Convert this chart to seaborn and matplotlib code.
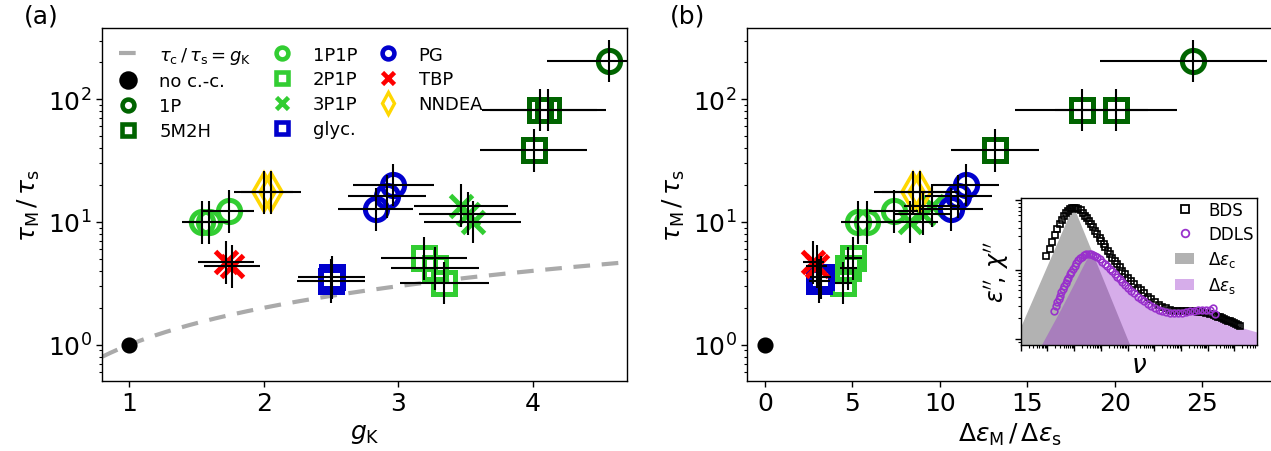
"""
Relaxation time ratio against Kirkwood factor (a) and against
relaxation strength ratio (b), with a BDS / DDLS spectrum inset.
"""

# imports
import numpy as np
import seaborn as sns
import matplotlib
matplotlib.use("Agg")
import matplotlib.pyplot as plt
from matplotlib.lines import Line2D
from matplotlib.patches import Patch
from matplotlib.ticker import LogLocator

# samples, in legend order
samples = ["no c.-c.", "1P", "5M2H", "1P1P", "2P1P", "3P1P",
           "glyc.", "PG", "TBP", "NNDEA"]

# Kirkwood factor g_K (x of panel a) and its error
g_k = {
    "no c.-c.": [1.0],
    "1P": [4.567],
    "5M2H": [4.007, 4.052, 4.115],
    "1P1P": [1.54, 1.59, 1.739],
    "2P1P": [3.194, 3.274, 3.343],
    "3P1P": [3.468, 3.518, 3.555],
    "glyc.": [2.50, 2.505],
    "PG": [2.834, 2.92, 2.963],
    "TBP": [1.72, 1.765],
    "NNDEA": [2.0, 2.055],
}
g_k_err = {
    "no c.-c.": [0.0],
    "1P": [0.46],
    "5M2H": [0.40, 0.43, 0.43],
    "1P1P": [0.15, 0.15, 0.19],
    "2P1P": [0.32, 0.33, 0.33],
    "3P1P": [0.35, 0.36, 0.36],
    "glyc.": [0.25, 0.25],
    "PG": [0.28, 0.29, 0.30],
    "TBP": [0.21, 0.21],
    "NNDEA": [0.22, 0.22],
}

# tau_M / tau_s (y of both panels) with lower / upper ends of the bars
tau_ratio = {
    "no c.-c.": [1.0],
    "1P": [205.0],
    "5M2H": [38.7, 82.0, 82.0],
    "1P1P": [9.9, 9.9, 12.2],
    "2P1P": [5.05, 4.19, 3.16],
    "3P1P": [13.6, 11.6, 9.9],
    "glyc.": [3.33, 3.55],
    "PG": [12.7, 16.2, 20.1],
    "TBP": [4.69, 4.35],
    "NNDEA": [17.6, 17.6],
}
tau_lo = {
    "no c.-c.": [1.0],
    "1P": [137.0],
    "5M2H": [25.6, 55.0, 55.0],
    "1P1P": [6.6, 6.6, 8.1],
    "2P1P": [3.4, 2.8, 2.14],
    "3P1P": [9.1, 7.8, 6.7],
    "glyc.": [2.2, 2.35],
    "PG": [8.5, 10.8, 13.4],
    "TBP": [3.1, 2.9],
    "NNDEA": [11.7, 11.7],
}
tau_hi = {
    "no c.-c.": [1.0],
    "1P": [305.0],
    "5M2H": [57.0, 122.0, 122.0],
    "1P1P": [14.9, 14.9, 18.3],
    "2P1P": [7.5, 6.2, 4.7],
    "3P1P": [20.4, 17.4, 14.8],
    "glyc.": [4.95, 5.3],
    "PG": [19.0, 24.3, 29.5],
    "TBP": [7.0, 6.5],
    "NNDEA": [26.2, 26.2],
}

# delta eps_M / delta eps_s (x of panel b) and its error
deps_ratio = {
    "no c.-c.": [0.0],
    "1P": [24.48],
    "5M2H": [13.17, 18.13, 20.07],
    "1P1P": [5.34, 5.82, 7.38],
    "2P1P": [5.06, 4.77, 4.48],
    "3P1P": [9.54, 9.03, 8.30],
    "glyc.": [3.10, 3.20],
    "PG": [10.65, 11.07, 11.49],
    "TBP": [2.77, 2.96],
    "NNDEA": [8.45, 8.87],
}
deps_ratio_err = {
    "no c.-c.": [0.0],
    "1P": [[5.3], [4.25]],
    "5M2H": [2.5, 3.8, 3.5],
    "1P1P": [1.0, 1.0, 1.4],
    "2P1P": [0.5, 0.5, 0.5],
    "3P1P": [1.6, 1.6, 1.6],
    "glyc.": [0.6, 0.6],
    "PG": [1.8, 1.9, 1.9],
    "TBP": [0.6, 0.6],
    "NNDEA": [2.2, 2.2],
}

# inset spectra (log10 of nu and of the loss, arbitrary units)
bds_lognu = [-1.04, -0.91, -0.83, -0.73, -0.63, -0.54, -0.46, -0.38, -0.30,
             -0.23, -0.15, -0.07, 0.00, 0.08, 0.16, 0.25, 0.33, 0.40, 0.48,
             0.55, 0.63, 0.71, 0.79, 0.87, 0.95, 1.02, 1.10, 1.17, 1.25,
             1.33, 1.42, 1.52, 1.61, 1.71, 1.80, 1.90, 2.02, 2.14, 2.26,
             2.39, 2.50, 2.62, 2.75, 2.88, 3.02, 3.16, 3.30, 3.45, 3.60,
             3.75, 3.90, 4.05, 4.20, 4.35, 4.50, 4.65, 4.80, 4.95, 5.10,
             5.25, 5.33, 5.40, 5.48, 5.55, 5.63, 5.70, 5.78, 5.85, 5.92,
             6.00, 6.07, 6.14, 6.21]
bds_logeps = [1.20, 1.29, 1.39, 1.49, 1.58, 1.66, 1.72, 1.77, 1.81,
              1.84, 1.87, 1.885, 1.89, 1.885, 1.87, 1.85, 1.81, 1.77, 1.735,
              1.70, 1.655, 1.61, 1.56, 1.51, 1.46, 1.41, 1.365, 1.32, 1.27,
              1.22, 1.17, 1.12, 1.075, 1.03, 0.98, 0.935, 0.885, 0.84, 0.79,
              0.74, 0.70, 0.655, 0.61, 0.57, 0.53, 0.495, 0.465, 0.44, 0.42,
              0.41, 0.405, 0.40, 0.40, 0.40, 0.40, 0.395, 0.385, 0.37, 0.355,
              0.34, 0.33, 0.32, 0.31, 0.30, 0.29, 0.28, 0.265, 0.255, 0.24,
              0.23, 0.215, 0.20, 0.19]
ddls_lognu = [-0.75, -0.69, -0.63, -0.58, -0.54, -0.48, -0.42, -0.37, -0.32,
              -0.27, -0.23, -0.16, -0.10, -0.04, 0.02, 0.08, 0.15, 0.22,
              0.30, 0.38, 0.46, 0.54, 0.62, 0.70, 0.77, 0.86, 0.96, 1.05,
              1.15, 1.24, 1.33, 1.42, 1.52, 1.61, 1.71, 1.80, 1.90, 2.02,
              2.14, 2.26, 2.39, 2.50, 2.62, 2.75, 2.88, 3.02, 3.16, 3.30,
              3.45, 3.60, 3.75, 3.90, 4.05, 4.20, 4.35, 4.50, 4.65, 4.80,
              4.95, 5.10, 5.20, 5.27]
ddls_logeps = [0.41, 0.47, 0.53, 0.58, 0.62, 0.67, 0.72, 0.765, 0.81,
               0.85, 0.88, 0.93, 0.97, 1.01, 1.05, 1.09, 1.13, 1.16,
               1.18, 1.205, 1.22, 1.225, 1.22, 1.21, 1.20, 1.175, 1.15, 1.115,
               1.08, 1.045, 1.01, 0.975, 0.935, 0.895, 0.86, 0.82, 0.78, 0.735,
               0.695, 0.655, 0.61, 0.58, 0.545, 0.51, 0.475, 0.445, 0.42, 0.40,
               0.385, 0.375, 0.37, 0.37, 0.375, 0.39, 0.40, 0.41, 0.415, 0.42,
               0.415, 0.42, 0.44, 0.36]
# relaxation strength areas
c_lognu = [-2.0, -0.04, 2.10]
c_logeps = [0.18, 1.92, -0.10]
s_lognu = [-1.25, -0.50, 0.00, 0.30, 0.45, 0.55, 0.65, 0.80, 1.00, 1.20,
           1.40, 1.60, 1.80, 2.00, 2.28, 2.58, 2.80, 3.00, 3.28, 3.50,
           3.80, 4.10, 4.40, 4.70, 5.00, 5.30, 5.60, 6.00, 6.40, 6.85]
s_logeps = [-0.10, 0.43, 0.80, 1.03, 1.14, 1.19, 1.19, 1.15, 1.08, 1.01,
            0.95, 0.88, 0.80, 0.73, 0.66, 0.56, 0.48, 0.42, 0.37, 0.345,
            0.335, 0.34, 0.355, 0.36, 0.35, 0.31, 0.26, 0.20, 0.15, 0.10]

# marker styles
dgreen, lgreen, blue = "#006400", "#32cd32", "#0000cd"
styles = {
    "no c.-c.": dict(marker="o", color="black", ms=8.0, mfc="black", mew=3.6),
    "1P": dict(marker="o", color=dgreen, ms=16, mfc="none", mew=3.6),
    "5M2H": dict(marker="s", color=dgreen, ms=16, mfc="none", mew=3.6),
    "1P1P": dict(marker="o", color=lgreen, ms=16, mfc="none", mew=3.6),
    "2P1P": dict(marker="s", color=lgreen, ms=16, mfc="none", mew=3.6),
    "3P1P": dict(marker="x", color=lgreen, ms=16, mfc="none", mew=3.6),
    "glyc.": dict(marker="s", color=blue, ms=16, mfc="none", mew=3.6),
    "PG": dict(marker="o", color=blue, ms=16, mfc="none", mew=3.6),
    "TBP": dict(marker="x", color="red", ms=16, mfc="none", mew=3.6),
    "NNDEA": dict(marker="d", color="gold", ms=19, mfc="none", mew=2.6),
}

sns.set_style("ticks")
plt.rcParams.update({
    "font.family": ["DejaVu Sans"],
    "mathtext.fontset": "dejavusans",
    "axes.edgecolor": "black",
    "axes.labelcolor": "black",
    "text.color": "black",
    "xtick.color": "black",
    "ytick.color": "black",
    "axes.linewidth": 1.0,
    "xtick.major.size": 4.2, "ytick.major.size": 4.2,
    "xtick.minor.size": 2.4, "ytick.minor.size": 2.4,
    "xtick.major.width": 1.0, "ytick.major.width": 1.0,
    "xtick.minor.width": 0.8, "ytick.minor.width": 0.8,
})


def draw_panel(ax, xdata, xerr):
    """Plot every sample with its error cross."""
    for s in samples:
        st = styles[s]
        x = np.array(xdata[s])
        y = np.array(tau_ratio[s])
        if s != "no c.-c.":
            yerr = [y - np.array(tau_lo[s]), np.array(tau_hi[s]) - y]
            ax.errorbar(x, y, xerr=np.array(xerr[s]), yerr=yerr, fmt="none",
                        ecolor="black", elinewidth=1.5, capsize=0, zorder=4)
        ax.plot(x, y, ls="none", marker=st["marker"], ms=st["ms"],
                mfc=st["mfc"], mec=st["color"], mew=st["mew"], zorder=3)
    ax.set_yscale("log")
    ax.set_ylim(0.51, 377)
    ax.set_ylabel(r"$\tau_\mathrm{M}\,/\,\tau_\mathrm{s}$", fontsize=18)
    ax.tick_params(labelsize=18)


fig = plt.figure(figsize=(12.71, 4.52), dpi=100)
ax_a = fig.add_axes([0.0805, 0.1555, 0.4126, 0.7796])
ax_b = fig.add_axes([0.5881, 0.1555, 0.4126, 0.7796])

# panel (a)
gk_line = np.linspace(0.8, 4.7, 200)
sns.lineplot(x=gk_line, y=gk_line, ax=ax_a, color="#aaaaaa", lw=3.0,
             linestyle=(0, (4, 2.8)), errorbar=None, legend=False, zorder=1)
draw_panel(ax_a, g_k, g_k_err)
ax_a.set_xlim(0.8, 4.7)
ax_a.set_xticks([1, 2, 3, 4])
ax_a.set_xlabel(r"$g_\mathrm{K}$", fontsize=18)

handles = [Line2D([], [], color="#aaaaaa", lw=3.0, linestyle=(0, (4, 2.8)))]
for s in samples:
    st = styles[s]
    if s == "no c.-c.":
        ms, mew = 10.0, 3.3
    elif st["marker"] == "d":
        ms, mew = 11.0, 2.4
    else:
        ms, mew = 8.5, 3.3
    handles.append(Line2D([], [], ls="none", marker=st["marker"], ms=ms,
                          mfc=st["mfc"], mec=st["color"], mew=mew))
labels = [r"$\tau_\mathrm{c}\,/\,\tau_\mathrm{s} = g_\mathrm{K}$"] + samples
ax_a.legend(handles, labels, loc="upper left", ncol=3, frameon=False,
            fontsize=13, handlelength=1.1, handletextpad=1.15,
            columnspacing=1.15, labelspacing=0.38)

# panel (b)
draw_panel(ax_b, deps_ratio, deps_ratio_err)
ax_b.set_xlim(-1, 29)
ax_b.set_xticks([0, 5, 10, 15, 20, 25])
ax_b.set_xlabel(r"$\Delta\varepsilon_\mathrm{M}\,/\,\Delta\varepsilon_\mathrm{s}$",
                fontsize=18)

# inset
axins = fig.add_axes([0.8031, 0.2352, 0.1857, 0.3246])
axins.set_xscale("log")
axins.set_yscale("log")
floor = 10 ** -0.5
axins.fill_between(np.power(10.0, c_lognu), np.power(10.0, c_logeps), floor,
                   color="#b2b2b2", lw=0, zorder=1)
axins.fill_between(np.power(10.0, s_lognu), np.power(10.0, s_logeps), floor,
                   color="darkorchid", alpha=0.4, lw=0, zorder=2)
axins.plot(np.power(10.0, bds_lognu), np.power(10.0, bds_logeps), ls="none",
           marker="s", ms=4.5, mfc="none", mec="black", mew=1.2, zorder=3)
axins.plot(np.power(10.0, ddls_lognu), np.power(10.0, ddls_logeps), ls="none",
           marker="o", ms=4.8, mfc="none", mec="darkorchid", mew=1.2, zorder=4)
axins.set_xlim(10 ** -2, 10 ** 6.84)
axins.set_ylim(10 ** -0.082, 10 ** 2.03)
axins.xaxis.set_major_locator(LogLocator(base=10, numticks=20))
axins.xaxis.set_minor_locator(LogLocator(base=10, subs=np.arange(2, 10),
                                         numticks=20))
axins.tick_params(which="both", labelbottom=False, labelleft=False)
axins.set_xlabel(r"$\nu$", fontsize=19, labelpad=1)
axins.set_ylabel(r"$\varepsilon''\!,\,\chi''$", fontsize=17, labelpad=3)

ins_handles = [
    Line2D([], [], ls="none", marker="s", ms=5.5, mfc="none", mec="black",
           mew=1.3),
    Line2D([], [], ls="none", marker="o", ms=5.5, mfc="none",
           mec="darkorchid", mew=1.3),
    Patch(color="#b2b2b2", lw=0),
    Patch(color="darkorchid", alpha=0.4, lw=0),
]
ins_labels = ["BDS", "DDLS", r"$\Delta\varepsilon_\mathrm{c}$",
              r"$\Delta\varepsilon_\mathrm{s}$"]
axins.legend(ins_handles, ins_labels, loc="upper right", frameon=False,
             fontsize=12, borderaxespad=0.1, borderpad=0.1,
             handlelength=1.1, handletextpad=0.85, labelspacing=0.36)

fig.text(0.019, 0.99, "(a)", fontsize=18, va="top")
fig.text(0.527, 0.99, "(b)", fontsize=18, va="top")

fig.savefig("out.png", dpi=100)
